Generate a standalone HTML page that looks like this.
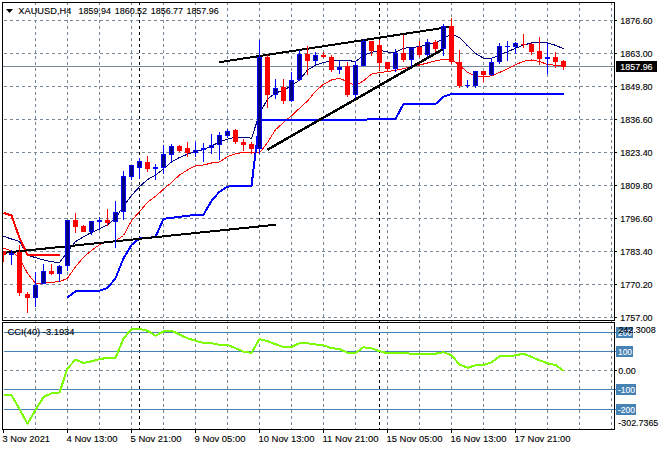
<!DOCTYPE html>
<html><head><meta charset="utf-8"><title>XAUUSD,H4</title>
<style>html,body{margin:0;padding:0;background:#fff}svg{display:block}text{font-family:"Liberation Sans",sans-serif;font-size:9.5px;fill:#000;stroke:#000;stroke-width:.12px}</style></head><body>
<svg width="660" height="450" viewBox="0 0 660 450">
<rect width="660" height="450" fill="#fff"/>
<defs><clipPath id="cm"><rect x="3" y="3" width="611" height="317"/></clipPath><clipPath id="ci"><rect x="3" y="323" width="611" height="106"/></clipPath></defs>
<g stroke="#778899" stroke-width="1" stroke-dasharray="3 3" shape-rendering="crispEdges">
<line x1="35.5" y1="2" x2="35.5" y2="429"/>
<line x1="67.5" y1="2" x2="67.5" y2="429"/>
<line x1="99.5" y1="2" x2="99.5" y2="429"/>
<line x1="131.5" y1="2" x2="131.5" y2="429"/>
<line x1="163.5" y1="2" x2="163.5" y2="429"/>
<line x1="195.5" y1="2" x2="195.5" y2="429"/>
<line x1="227.5" y1="2" x2="227.5" y2="429"/>
<line x1="259.5" y1="2" x2="259.5" y2="429"/>
<line x1="291.5" y1="2" x2="291.5" y2="429"/>
<line x1="323.5" y1="2" x2="323.5" y2="429"/>
<line x1="355.5" y1="2" x2="355.5" y2="429"/>
<line x1="387.5" y1="2" x2="387.5" y2="429"/>
<line x1="419.5" y1="2" x2="419.5" y2="429"/>
<line x1="451.5" y1="2" x2="451.5" y2="429"/>
<line x1="483.5" y1="2" x2="483.5" y2="429"/>
<line x1="515.5" y1="2" x2="515.5" y2="429"/>
<line x1="547.5" y1="2" x2="547.5" y2="429"/>
<line x1="579.5" y1="2" x2="579.5" y2="429"/>
<line x1="611.5" y1="2" x2="611.5" y2="429"/>
<line x1="4" y1="20.5" x2="614" y2="20.5"/>
<line x1="4" y1="53.5" x2="614" y2="53.5"/>
<line x1="4" y1="86.5" x2="614" y2="86.5"/>
<line x1="4" y1="119.5" x2="614" y2="119.5"/>
<line x1="4" y1="152.5" x2="614" y2="152.5"/>
<line x1="4" y1="185.5" x2="614" y2="185.5"/>
<line x1="4" y1="218.5" x2="614" y2="218.5"/>
<line x1="4" y1="251.5" x2="614" y2="251.5"/>
<line x1="4" y1="284.5" x2="614" y2="284.5"/>
<line x1="4" y1="317.5" x2="614" y2="317.5"/>
<line x1="4" y1="370.5" x2="614" y2="370.5"/>
</g>
<g stroke="#000" stroke-width="1" stroke-dasharray="3 3" shape-rendering="crispEdges">
<line x1="139.5" y1="2" x2="139.5" y2="429"/>
<line x1="379.5" y1="2" x2="379.5" y2="429"/>
</g>
<line x1="3" y1="66.5" x2="614" y2="66.5" stroke="#778899" shape-rendering="crispEdges"/>
<g stroke="#4682B4" stroke-width="1" shape-rendering="crispEdges">
<line x1="4" y1="332.5" x2="614" y2="332.5"/>
<line x1="615" y1="332.5" x2="617" y2="332.5"/>
<line x1="4" y1="351.5" x2="614" y2="351.5"/>
<line x1="615" y1="351.5" x2="617" y2="351.5"/>
<line x1="4" y1="389.5" x2="614" y2="389.5"/>
<line x1="615" y1="389.5" x2="617" y2="389.5"/>
<line x1="4" y1="409.5" x2="614" y2="409.5"/>
<line x1="615" y1="409.5" x2="617" y2="409.5"/>
</g>
<g clip-path="url(#cm)">
<polyline points="3.5,248.3 11.5,250.8 19.5,258.3 27.5,273.3 35.5,283.3 43.5,283.3 51.5,282.3 59.5,281.7 67.5,278.3 75.5,266.7 83.5,257.2 91.5,250.5 99.5,244.7 107.5,241.7 115.5,240.8 123.5,235.5 131.5,220.8 139.5,211.7 147.5,202.3 155.5,196.3 163.5,189.2 171.5,182.5 179.5,175 187.5,170 195.5,165.8 203.5,165 211.5,163 219.5,162 227.5,156.7 235.5,153.7 243.5,152.5 251.5,152.5 259.5,153 267.5,142.5 275.5,129.7 283.5,122.5 291.5,115.8 299.5,108.3 307.5,101 315.5,91.3 323.5,84.2 331.5,80 339.5,78.3 347.5,81.7 355.5,85.5 363.5,80.8 371.5,74.2 379.5,72.5 387.5,71.7 395.5,70.3 403.5,68.7 411.5,66.7 419.5,65 427.5,63 435.5,60.8 443.5,59.3 451.5,59.8 459.5,65 467.5,72.5 475.5,75.8 483.5,77 491.5,75.8 499.5,72.5 507.5,68.7 515.5,64.7 523.5,61.3 531.5,60 539.5,61.5 547.5,64.5 555.5,65.2 563.5,65.5" fill="none" stroke="#FF0000" stroke-width="1" stroke-linejoin="round" shape-rendering="crispEdges" />
<polyline points="3.5,236.3 11.5,239 19.5,241.6 27.5,255 35.5,257.7 43.5,259.9 51.5,261.7 59.5,262.6 67.5,251.7 75.5,241.7 83.5,236.7 91.5,232.5 99.5,228.7 107.5,225 115.5,218.3 123.5,206 131.5,195.6 139.5,186.7 147.5,179.5 155.5,175.3 163.5,168.7 171.5,162 179.5,157.5 187.5,154.2 195.5,151.3 203.5,149.7 211.5,146.2 219.5,141.7 227.5,139.2 235.5,137 243.5,137 251.5,138.3 259.5,113.8 267.5,99 275.5,93 283.5,90.3 291.5,85.8 299.5,80 307.5,70 315.5,65.3 323.5,62.5 331.5,60.8 339.5,60.8 347.5,60.3 355.5,61.7 363.5,55 371.5,52.5 379.5,50.3 387.5,52 395.5,52.5 403.5,48.3 411.5,47.5 419.5,46.7 427.5,44.2 435.5,43.3 443.5,38.3 451.5,34.2 459.5,37.5 467.5,45.8 475.5,53.3 483.5,58.3 491.5,58.3 499.5,55 507.5,51.7 515.5,48.3 523.5,45 531.5,43 539.5,42 547.5,43 555.5,45.3 563.5,48.7" fill="none" stroke="#000080" stroke-width="1" stroke-linejoin="round" shape-rendering="crispEdges" />
<polyline points="67.5,297.5 75.5,291.3 83.5,290.8 91.5,290.8 99.5,290.8 107.5,288 115.5,278.3 123.5,258.3 131.5,245 139.5,238.5 147.5,238 155.5,237 163.5,218.8 171.5,217.8 179.5,216.8 187.5,215.8 195.5,215 203.5,214.7 211.5,200.8 219.5,191.7 227.5,186.7 235.5,185.8 243.5,185.8 251.5,185.8 259.5,120 267.5,120 275.5,120 283.5,120 291.5,120 299.5,120 307.5,120 315.5,120 323.5,120 331.5,120 339.5,120 347.5,120 355.5,120 363.5,120 371.5,119 379.5,119 387.5,119 395.5,119 403.5,104 411.5,104 419.5,104 427.5,104 435.5,104 443.5,96.7 451.5,94 459.5,94 467.5,94 475.5,94 483.5,94 491.5,94 499.5,94 507.5,94 515.5,94 523.5,94 531.5,94 539.5,94 547.5,94 555.5,94 563.5,94" fill="none" stroke="#0000FF" stroke-width="2" stroke-linejoin="round" shape-rendering="crispEdges" />
<polyline points="3.5,212.8 11.5,215.5 19.5,238 27.5,255 35.5,255 60,255" fill="none" stroke="#FF0000" stroke-width="2" stroke-linejoin="round" shape-rendering="crispEdges" />
<line x1="2" y1="253" x2="276" y2="224.7" stroke="#000" stroke-width="2" shape-rendering="crispEdges"/>
<line x1="219.3" y1="62.2" x2="451" y2="26.7" stroke="#000" stroke-width="2" shape-rendering="crispEdges"/>
<line x1="267.3" y1="149.8" x2="442.5" y2="49.4" stroke="#000" stroke-width="2.5" shape-rendering="crispEdges"/>
<g shape-rendering="crispEdges">
<rect x="3" y="251" width="1" height="11" fill="#FF0000"/>
<rect x="1" y="251" width="5" height="4" fill="#FF0000"/>
<rect x="2" y="252" width="3" height="2" fill="#FF0000"/>
<rect x="11" y="250" width="1" height="15" fill="#0000FF"/>
<rect x="9" y="253" width="5" height="2" fill="#0000FF"/>
<rect x="19" y="245" width="1" height="51" fill="#FF0000"/>
<rect x="17" y="252" width="5" height="41" fill="#FF0000"/>
<rect x="18" y="253" width="3" height="39" fill="#FF0000"/>
<rect x="27" y="292" width="1" height="21" fill="#FF0000"/>
<rect x="25" y="294" width="5" height="4" fill="#FF0000"/>
<rect x="26" y="295" width="3" height="2" fill="#FF0000"/>
<rect x="35" y="272" width="1" height="35" fill="#0000FF"/>
<rect x="33" y="285" width="5" height="13" fill="#0000FF"/>
<rect x="34" y="286" width="3" height="11" fill="#000080"/>
<rect x="43" y="264" width="1" height="20" fill="#0000FF"/>
<rect x="41" y="271" width="5" height="13" fill="#0000FF"/>
<rect x="42" y="272" width="3" height="11" fill="#000080"/>
<rect x="51" y="264" width="1" height="11" fill="#FF0000"/>
<rect x="49" y="271" width="5" height="3" fill="#FF0000"/>
<rect x="50" y="272" width="3" height="1" fill="#FF0000"/>
<rect x="59" y="265" width="1" height="17" fill="#0000FF"/>
<rect x="57" y="266" width="5" height="8" fill="#0000FF"/>
<rect x="58" y="267" width="3" height="6" fill="#000080"/>
<rect x="67" y="220" width="1" height="51" fill="#0000FF"/>
<rect x="65" y="220" width="5" height="46" fill="#0000FF"/>
<rect x="66" y="221" width="3" height="44" fill="#000080"/>
<rect x="75" y="213" width="1" height="20" fill="#FF0000"/>
<rect x="73" y="220" width="5" height="7" fill="#FF0000"/>
<rect x="74" y="221" width="3" height="5" fill="#FF0000"/>
<rect x="83" y="225" width="1" height="7" fill="#FF0000"/>
<rect x="81" y="226" width="5" height="6" fill="#FF0000"/>
<rect x="82" y="227" width="3" height="4" fill="#FF0000"/>
<rect x="91" y="221" width="1" height="14" fill="#0000FF"/>
<rect x="89" y="221" width="5" height="11" fill="#0000FF"/>
<rect x="90" y="222" width="3" height="9" fill="#000080"/>
<rect x="99" y="217" width="1" height="13" fill="#0000FF"/>
<rect x="97" y="220" width="5" height="2" fill="#0000FF"/>
<rect x="107" y="209" width="1" height="17" fill="#FF0000"/>
<rect x="105" y="220" width="5" height="3" fill="#FF0000"/>
<rect x="106" y="221" width="3" height="1" fill="#FF0000"/>
<rect x="115" y="201" width="1" height="47" fill="#0000FF"/>
<rect x="113" y="212" width="5" height="10" fill="#0000FF"/>
<rect x="114" y="213" width="3" height="8" fill="#000080"/>
<rect x="123" y="171" width="1" height="49" fill="#0000FF"/>
<rect x="121" y="176" width="5" height="36" fill="#0000FF"/>
<rect x="122" y="177" width="3" height="34" fill="#000080"/>
<rect x="131" y="165" width="1" height="15" fill="#0000FF"/>
<rect x="129" y="165" width="5" height="12" fill="#0000FF"/>
<rect x="130" y="166" width="3" height="10" fill="#000080"/>
<rect x="139" y="158" width="1" height="21" fill="#0000FF"/>
<rect x="137" y="161" width="5" height="7" fill="#0000FF"/>
<rect x="138" y="162" width="3" height="5" fill="#000080"/>
<rect x="147" y="156" width="1" height="16" fill="#FF0000"/>
<rect x="145" y="162" width="5" height="7" fill="#FF0000"/>
<rect x="146" y="163" width="3" height="5" fill="#FF0000"/>
<rect x="155" y="164" width="1" height="16" fill="#0000FF"/>
<rect x="153" y="167" width="5" height="2" fill="#0000FF"/>
<rect x="163" y="145" width="1" height="29" fill="#0000FF"/>
<rect x="161" y="154" width="5" height="14" fill="#0000FF"/>
<rect x="162" y="155" width="3" height="12" fill="#000080"/>
<rect x="171" y="144" width="1" height="18" fill="#0000FF"/>
<rect x="169" y="146" width="5" height="9" fill="#0000FF"/>
<rect x="170" y="147" width="3" height="7" fill="#000080"/>
<rect x="179" y="145" width="1" height="7" fill="#FF0000"/>
<rect x="177" y="146" width="5" height="5" fill="#FF0000"/>
<rect x="178" y="147" width="3" height="3" fill="#FF0000"/>
<rect x="187" y="142" width="1" height="15" fill="#FF0000"/>
<rect x="185" y="148" width="5" height="5" fill="#FF0000"/>
<rect x="186" y="149" width="3" height="3" fill="#FF0000"/>
<rect x="195" y="142" width="1" height="15" fill="#0000FF"/>
<rect x="193" y="150" width="5" height="3" fill="#0000FF"/>
<rect x="194" y="151" width="3" height="1" fill="#000080"/>
<rect x="203" y="143" width="1" height="19" fill="#0000FF"/>
<rect x="201" y="148" width="5" height="2" fill="#0000FF"/>
<rect x="211" y="134" width="1" height="20" fill="#0000FF"/>
<rect x="209" y="145" width="5" height="3" fill="#0000FF"/>
<rect x="210" y="146" width="3" height="1" fill="#000080"/>
<rect x="219" y="132" width="1" height="28" fill="#0000FF"/>
<rect x="217" y="135" width="5" height="10" fill="#0000FF"/>
<rect x="218" y="136" width="3" height="8" fill="#000080"/>
<rect x="227" y="129" width="1" height="9" fill="#0000FF"/>
<rect x="225" y="131" width="5" height="5" fill="#0000FF"/>
<rect x="226" y="132" width="3" height="3" fill="#000080"/>
<rect x="235" y="129" width="1" height="15" fill="#FF0000"/>
<rect x="233" y="130" width="5" height="12" fill="#FF0000"/>
<rect x="234" y="131" width="3" height="10" fill="#FF0000"/>
<rect x="243" y="139" width="1" height="12" fill="#FF0000"/>
<rect x="241" y="142" width="5" height="3" fill="#FF0000"/>
<rect x="242" y="143" width="3" height="1" fill="#FF0000"/>
<rect x="251" y="142" width="1" height="12" fill="#FF0000"/>
<rect x="249" y="144" width="5" height="5" fill="#FF0000"/>
<rect x="250" y="145" width="3" height="3" fill="#FF0000"/>
<rect x="259" y="40" width="1" height="114" fill="#0000FF"/>
<rect x="257" y="57" width="5" height="92" fill="#0000FF"/>
<rect x="258" y="58" width="3" height="90" fill="#000080"/>
<rect x="267" y="55" width="1" height="53" fill="#FF0000"/>
<rect x="265" y="57" width="5" height="38" fill="#FF0000"/>
<rect x="266" y="58" width="3" height="36" fill="#FF0000"/>
<rect x="275" y="79" width="1" height="20" fill="#0000FF"/>
<rect x="273" y="88" width="5" height="7" fill="#0000FF"/>
<rect x="274" y="89" width="3" height="5" fill="#000080"/>
<rect x="283" y="79" width="1" height="25" fill="#FF0000"/>
<rect x="281" y="87" width="5" height="14" fill="#FF0000"/>
<rect x="282" y="88" width="3" height="12" fill="#FF0000"/>
<rect x="291" y="72" width="1" height="30" fill="#0000FF"/>
<rect x="289" y="80" width="5" height="21" fill="#0000FF"/>
<rect x="290" y="81" width="3" height="19" fill="#000080"/>
<rect x="299" y="50" width="1" height="31" fill="#0000FF"/>
<rect x="297" y="54" width="5" height="26" fill="#0000FF"/>
<rect x="298" y="55" width="3" height="24" fill="#000080"/>
<rect x="307" y="46" width="1" height="29" fill="#FF0000"/>
<rect x="305" y="54" width="5" height="7" fill="#FF0000"/>
<rect x="306" y="55" width="3" height="5" fill="#FF0000"/>
<rect x="315" y="52" width="1" height="13" fill="#0000FF"/>
<rect x="313" y="55" width="5" height="6" fill="#0000FF"/>
<rect x="314" y="56" width="3" height="4" fill="#000080"/>
<rect x="323" y="52" width="1" height="6" fill="#FF0000"/>
<rect x="321" y="55" width="5" height="2" fill="#FF0000"/>
<rect x="331" y="55" width="1" height="17" fill="#FF0000"/>
<rect x="329" y="57" width="5" height="13" fill="#FF0000"/>
<rect x="330" y="58" width="3" height="11" fill="#FF0000"/>
<rect x="339" y="61" width="1" height="13" fill="#0000FF"/>
<rect x="337" y="67" width="5" height="3" fill="#0000FF"/>
<rect x="338" y="68" width="3" height="1" fill="#000080"/>
<rect x="347" y="62" width="1" height="35" fill="#FF0000"/>
<rect x="345" y="66" width="5" height="29" fill="#FF0000"/>
<rect x="346" y="67" width="3" height="27" fill="#FF0000"/>
<rect x="355" y="61" width="1" height="37" fill="#0000FF"/>
<rect x="353" y="65" width="5" height="30" fill="#0000FF"/>
<rect x="354" y="66" width="3" height="28" fill="#000080"/>
<rect x="363" y="39" width="1" height="27" fill="#0000FF"/>
<rect x="361" y="41" width="5" height="25" fill="#0000FF"/>
<rect x="362" y="42" width="3" height="23" fill="#000080"/>
<rect x="371" y="41" width="1" height="15" fill="#FF0000"/>
<rect x="369" y="41" width="5" height="10" fill="#FF0000"/>
<rect x="370" y="42" width="3" height="8" fill="#FF0000"/>
<rect x="379" y="40" width="1" height="30" fill="#FF0000"/>
<rect x="377" y="45" width="5" height="18" fill="#FF0000"/>
<rect x="378" y="46" width="3" height="16" fill="#FF0000"/>
<rect x="387" y="62" width="1" height="9" fill="#FF0000"/>
<rect x="385" y="62" width="5" height="7" fill="#FF0000"/>
<rect x="386" y="63" width="3" height="5" fill="#FF0000"/>
<rect x="395" y="49" width="1" height="23" fill="#0000FF"/>
<rect x="393" y="53" width="5" height="16" fill="#0000FF"/>
<rect x="394" y="54" width="3" height="14" fill="#000080"/>
<rect x="403" y="35" width="1" height="27" fill="#FF0000"/>
<rect x="401" y="53" width="5" height="7" fill="#FF0000"/>
<rect x="402" y="54" width="3" height="5" fill="#FF0000"/>
<rect x="411" y="48" width="1" height="19" fill="#0000FF"/>
<rect x="409" y="48" width="5" height="12" fill="#0000FF"/>
<rect x="410" y="49" width="3" height="10" fill="#000080"/>
<rect x="419" y="41" width="1" height="16" fill="#FF0000"/>
<rect x="417" y="47" width="5" height="8" fill="#FF0000"/>
<rect x="418" y="48" width="3" height="6" fill="#FF0000"/>
<rect x="427" y="39" width="1" height="18" fill="#0000FF"/>
<rect x="425" y="42" width="5" height="13" fill="#0000FF"/>
<rect x="426" y="43" width="3" height="11" fill="#000080"/>
<rect x="435" y="40" width="1" height="12" fill="#FF0000"/>
<rect x="433" y="42" width="5" height="7" fill="#FF0000"/>
<rect x="434" y="43" width="3" height="5" fill="#FF0000"/>
<rect x="443" y="24" width="1" height="32" fill="#0000FF"/>
<rect x="441" y="26" width="5" height="23" fill="#0000FF"/>
<rect x="442" y="27" width="3" height="21" fill="#000080"/>
<rect x="451" y="18" width="1" height="46" fill="#FF0000"/>
<rect x="449" y="26" width="5" height="36" fill="#FF0000"/>
<rect x="450" y="27" width="3" height="34" fill="#FF0000"/>
<rect x="459" y="50" width="1" height="38" fill="#FF0000"/>
<rect x="457" y="62" width="5" height="24" fill="#FF0000"/>
<rect x="458" y="63" width="3" height="22" fill="#FF0000"/>
<rect x="467" y="80" width="1" height="8" fill="#0000FF"/>
<rect x="465" y="85" width="5" height="1" fill="#0000FF"/>
<rect x="475" y="71" width="1" height="17" fill="#0000FF"/>
<rect x="473" y="71" width="5" height="15" fill="#0000FF"/>
<rect x="474" y="72" width="3" height="13" fill="#000080"/>
<rect x="483" y="71" width="1" height="11" fill="#FF0000"/>
<rect x="481" y="71" width="5" height="4" fill="#FF0000"/>
<rect x="482" y="72" width="3" height="2" fill="#FF0000"/>
<rect x="491" y="58" width="1" height="18" fill="#0000FF"/>
<rect x="489" y="62" width="5" height="13" fill="#0000FF"/>
<rect x="490" y="63" width="3" height="11" fill="#000080"/>
<rect x="499" y="43" width="1" height="21" fill="#0000FF"/>
<rect x="497" y="46" width="5" height="16" fill="#0000FF"/>
<rect x="498" y="47" width="3" height="14" fill="#000080"/>
<rect x="507" y="41" width="1" height="20" fill="#0000FF"/>
<rect x="505" y="46" width="5" height="1" fill="#0000FF"/>
<rect x="515" y="42" width="1" height="12" fill="#0000FF"/>
<rect x="513" y="43" width="5" height="4" fill="#0000FF"/>
<rect x="514" y="44" width="3" height="2" fill="#000080"/>
<rect x="523" y="34" width="1" height="14" fill="#FF0000"/>
<rect x="521" y="44" width="5" height="1" fill="#FF0000"/>
<rect x="531" y="43" width="1" height="12" fill="#FF0000"/>
<rect x="529" y="44" width="5" height="8" fill="#FF0000"/>
<rect x="530" y="45" width="3" height="6" fill="#FF0000"/>
<rect x="539" y="37" width="1" height="28" fill="#FF0000"/>
<rect x="537" y="51" width="5" height="8" fill="#FF0000"/>
<rect x="538" y="52" width="3" height="6" fill="#FF0000"/>
<rect x="547" y="43" width="1" height="31" fill="#0000FF"/>
<rect x="545" y="57" width="5" height="2" fill="#0000FF"/>
<rect x="555" y="52" width="1" height="16" fill="#FF0000"/>
<rect x="553" y="57" width="5" height="5" fill="#FF0000"/>
<rect x="554" y="58" width="3" height="3" fill="#FF0000"/>
<rect x="563" y="60" width="1" height="10" fill="#FF0000"/>
<rect x="561" y="61" width="5" height="6" fill="#FF0000"/>
<rect x="562" y="62" width="3" height="4" fill="#FF0000"/>
</g>
</g>
<g clip-path="url(#ci)">
<polyline points="3.5,395 11.5,395 19.5,409.2 27.5,423.7 35.5,410 43.5,397 51.5,393.3 59.5,392.5 67.5,368.3 75.5,359.7 83.5,363 91.5,361.3 99.5,359.2 107.5,357.8 115.5,357.8 123.5,338.7 131.5,329 139.5,329 147.5,330.7 155.5,335.7 163.5,331.5 171.5,330.7 179.5,334.5 187.5,338.3 195.5,340.7 203.5,343 211.5,343.2 219.5,344.8 227.5,344.8 235.5,348.2 243.5,351.7 251.5,352.8 259.5,339 267.5,341.2 275.5,344.2 283.5,347 291.5,347 299.5,343.2 307.5,343.2 315.5,344.5 323.5,345.3 331.5,348.2 339.5,349 347.5,352.8 355.5,352.8 363.5,347.3 371.5,348.3 379.5,351.2 387.5,353.3 395.5,353.3 403.5,353 411.5,353.7 419.5,353.7 427.5,353.7 435.5,353.7 443.5,352.3 451.5,355.3 459.5,364.5 467.5,367.8 475.5,365.3 483.5,365 491.5,362.3 499.5,356.5 507.5,356.2 515.5,355.3 523.5,353.7 531.5,357 539.5,360.3 547.5,363.3 555.5,365 563.5,370.8" fill="none" stroke="#7CFC00" stroke-width="2" stroke-linejoin="round" shape-rendering="crispEdges" />
</g>
<g fill="none" stroke="#000" stroke-width="1" shape-rendering="crispEdges">
<path d="M2.5,320.5 V2.5 H614.5 V320.5 Z"/>
<path d="M2.5,429.5 V322.5 H614.5 V429.5 Z"/>
<line x1="615" y1="20.5" x2="617" y2="20.5"/>
<line x1="615" y1="53.5" x2="617" y2="53.5"/>
<line x1="615" y1="86.5" x2="617" y2="86.5"/>
<line x1="615" y1="119.5" x2="617" y2="119.5"/>
<line x1="615" y1="152.5" x2="617" y2="152.5"/>
<line x1="615" y1="185.5" x2="617" y2="185.5"/>
<line x1="615" y1="218.5" x2="617" y2="218.5"/>
<line x1="615" y1="251.5" x2="617" y2="251.5"/>
<line x1="615" y1="284.5" x2="617" y2="284.5"/>
<line x1="615" y1="317.5" x2="617" y2="317.5"/>
<line x1="615" y1="370.5" x2="617" y2="370.5"/>
<line x1="3.5" y1="430" x2="3.5" y2="433"/>
<line x1="67.5" y1="430" x2="67.5" y2="433"/>
<line x1="131.5" y1="430" x2="131.5" y2="433"/>
<line x1="195.5" y1="430" x2="195.5" y2="433"/>
<line x1="259.5" y1="430" x2="259.5" y2="433"/>
<line x1="323.5" y1="430" x2="323.5" y2="433"/>
<line x1="387.5" y1="430" x2="387.5" y2="433"/>
<line x1="451.5" y1="430" x2="451.5" y2="433"/>
<line x1="515.5" y1="430" x2="515.5" y2="433"/>
</g>
<text x="620.3" y="24" textLength="32.3" lengthAdjust="spacingAndGlyphs">1876.60</text>
<text x="620.3" y="57" textLength="32.3" lengthAdjust="spacingAndGlyphs">1863.00</text>
<text x="620.3" y="90" textLength="32.3" lengthAdjust="spacingAndGlyphs">1849.80</text>
<text x="620.3" y="123" textLength="32.3" lengthAdjust="spacingAndGlyphs">1836.60</text>
<text x="620.3" y="156" textLength="32.3" lengthAdjust="spacingAndGlyphs">1823.40</text>
<text x="620.3" y="189" textLength="32.3" lengthAdjust="spacingAndGlyphs">1809.80</text>
<text x="620.3" y="222" textLength="32.3" lengthAdjust="spacingAndGlyphs">1796.60</text>
<text x="620.3" y="255" textLength="32.3" lengthAdjust="spacingAndGlyphs">1783.40</text>
<text x="620.3" y="288" textLength="32.3" lengthAdjust="spacingAndGlyphs">1770.20</text>
<text x="620.3" y="321" textLength="32.3" lengthAdjust="spacingAndGlyphs">1757.00</text>
<rect x="616" y="61" width="41" height="11" fill="#000"/>
<text x="620.3" y="70" textLength="32.3" lengthAdjust="spacingAndGlyphs" style="fill:#fff;stroke:#fff">1857.96</text>
<text x="618.3" y="374" textLength="17.5" lengthAdjust="spacingAndGlyphs">0.00</text>
<text x="618.3" y="426" textLength="40" lengthAdjust="spacingAndGlyphs">-302.7365</text>
<rect x="616" y="327" width="17" height="11" fill="#4682B4"/>
<text x="618" y="336" textLength="14" lengthAdjust="spacingAndGlyphs" style="fill:#fff;stroke:#fff">200</text>
<rect x="616" y="346" width="17" height="11" fill="#4682B4"/>
<text x="618" y="355" textLength="14" lengthAdjust="spacingAndGlyphs" style="fill:#fff;stroke:#fff">100</text>
<rect x="616" y="384" width="20" height="11" fill="#4682B4"/>
<text x="618" y="393" textLength="17" lengthAdjust="spacingAndGlyphs" style="fill:#fff;stroke:#fff">-100</text>
<rect x="616" y="404" width="20" height="11" fill="#4682B4"/>
<text x="618" y="413" textLength="17" lengthAdjust="spacingAndGlyphs" style="fill:#fff;stroke:#fff">-200</text>
<text x="618.4" y="333" textLength="37.3" lengthAdjust="spacingAndGlyphs">242.3008</text>
<path d="M6,9 h7 l-3.5,4 z" fill="#000"/>
<text x="18.3" y="14" textLength="53" lengthAdjust="spacingAndGlyphs">XAUUSD,H4</text>
<text x="78.5" y="14" textLength="32.4" lengthAdjust="spacingAndGlyphs">1859.94</text>
<text x="114.7" y="14" textLength="32.4" lengthAdjust="spacingAndGlyphs">1860.52</text>
<text x="150.7" y="14" textLength="32.4" lengthAdjust="spacingAndGlyphs">1856.77</text>
<text x="186.4" y="14" textLength="32.4" lengthAdjust="spacingAndGlyphs">1857.96</text>
<text x="7.5" y="335" textLength="67" lengthAdjust="spacingAndGlyphs">CCI(40) -3.1934</text>
<text x="2.5" y="442" textLength="47.5" lengthAdjust="spacingAndGlyphs">3 Nov 2021</text>
<text x="66.5" y="442" textLength="51" lengthAdjust="spacingAndGlyphs">4 Nov 13:00</text>
<text x="130.5" y="442" textLength="51" lengthAdjust="spacingAndGlyphs">5 Nov 21:00</text>
<text x="194.5" y="442" textLength="51" lengthAdjust="spacingAndGlyphs">9 Nov 05:00</text>
<text x="258.5" y="442" textLength="56" lengthAdjust="spacingAndGlyphs">10 Nov 13:00</text>
<text x="322.5" y="442" textLength="56" lengthAdjust="spacingAndGlyphs">11 Nov 21:00</text>
<text x="386.5" y="442" textLength="56" lengthAdjust="spacingAndGlyphs">15 Nov 05:00</text>
<text x="450.5" y="442" textLength="56" lengthAdjust="spacingAndGlyphs">16 Nov 13:00</text>
<text x="514.5" y="442" textLength="56" lengthAdjust="spacingAndGlyphs">17 Nov 21:00</text>
</svg></body></html>
